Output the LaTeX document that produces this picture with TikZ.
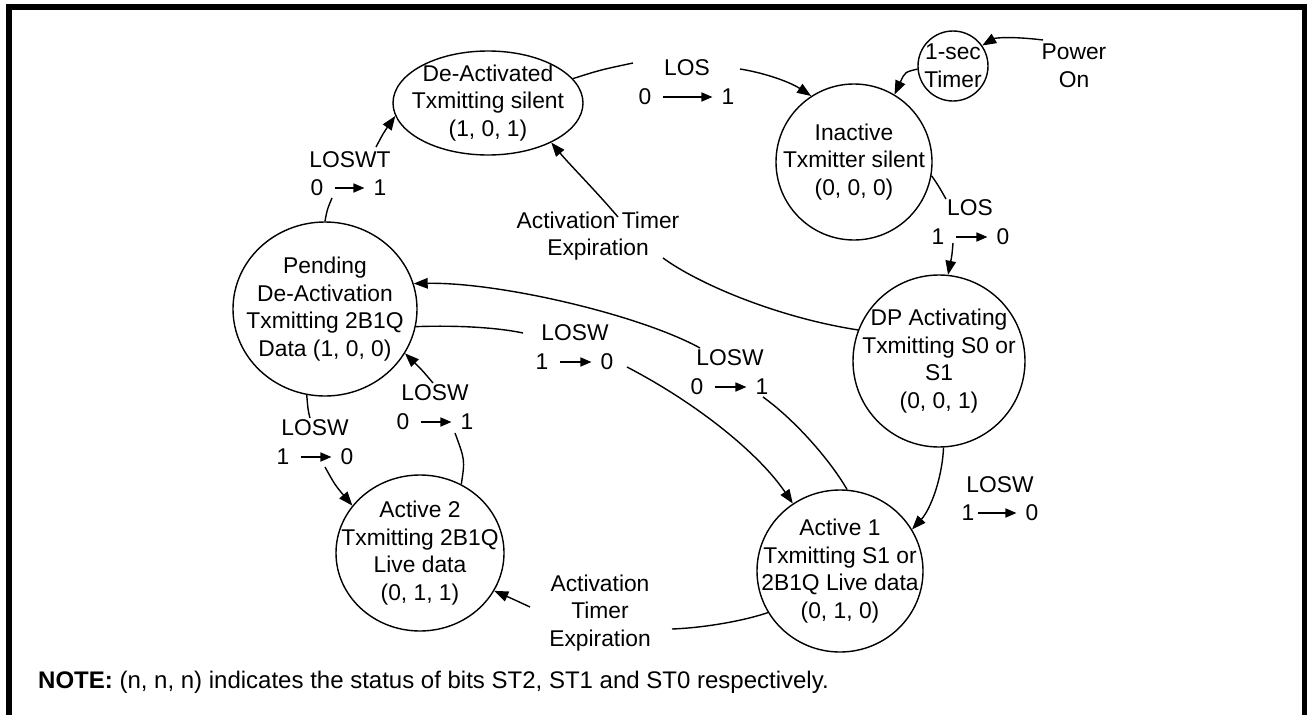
\documentclass[tikz,border=0pt]{standalone}
\usepackage{fontspec}
\setmainfont{Liberation Sans}
\usetikzlibrary{shapes.geometric,arrows.meta}
\begin{document}
\begin{tikzpicture}[x=1pt,y=-1pt,
  st/.style={draw, ellipse, inner sep=0pt, line width=1.4pt},
  txt/.style={font=\fontsize{22.8}{27.5}\selectfont, align=center, inner sep=1pt},
  con/.style={line width=1.4pt},
  tip/.style={con, -{Triangle[length=14pt,width=10.5pt]}},
  tarr/.style={line width=1.6pt, -{Triangle[length=11pt,width=9pt]}, shorten <=10pt, shorten >=8pt}]
\useasboundingbox (0,0) rectangle (1307,715);
\fill[white] (0,0) rectangle (1307,715);
\draw[line width=6pt] (8.5,7) rectangle (1305,730);

% states
\node[st, minimum width=190pt, minimum height=104pt,
  label={[txt]center:{De-Activated\\Txmitting silent\\(1, 0, 1)}}] (DeAct) at (488,103) {};
\node[st, minimum width=70pt, minimum height=70pt,
  label={[txt]center:{1-sec\\Timer}}] (Timer) at (953,66) {};
\node[st, minimum width=156pt, minimum height=156pt,
  label={[txt]center:{Inactive\\Txmitter silent\\(0, 0, 0)}}] (Inactive) at (854,162) {};
\node[st, minimum width=172pt, minimum height=172pt,
  label={[txt]center:{DP Activating\\Txmitting S0 or\\S1\\(0, 0, 1)}}] (DP) at (939,361) {};
\node[st, minimum width=184pt, minimum height=174pt,
  label={[txt]center:{Pending\\De-Activation\\Txmitting 2B1Q\\Data (1, 0, 0)}}] (Pending) at (325,309) {};
\node[st, minimum width=168pt, minimum height=156pt,
  label={[txt]center:{Active 2\\Txmitting 2B1Q\\Live data\\(0, 1, 1)}}] (Active2) at (420,553) {};
\node[st, minimum width=166pt, minimum height=162pt,
  label={[txt]center:{Active 1\\Txmitting S1 or\\2B1Q Live data\\(0, 1, 0)}}] (Active1) at (840,571) {};

% labels
\node[txt] (Pow) at (1074,66) {Power\\On};

\node[txt] (l1w) at (687,68) {LOS};
\node[txt] (l1a) at (645,97) {0};
\node[txt] (l1b) at (728,97) {1};
\draw[tarr] (l1a) -- (l1b);

\node[txt] (l2w) at (970,208) {LOS};
\node[txt] (l2a) at (938,237) {1};
\node[txt] (l2b) at (1003,237) {0};
\draw[tarr] (l2a) -- (l2b);

\node[txt] (l3) at (598,236) {Activation Timer\\Expiration};

\node[txt] (l4w) at (730,358) {LOSW};
\node[txt] (l4a) at (697,387) {0};
\node[txt] (l4b) at (762,387) {1};
\draw[tarr] (l4a) -- (l4b);

\node[txt] (l5w) at (575,333) {LOSW};
\node[txt] (l5a) at (542,362) {1};
\node[txt] (l5b) at (607,362) {0};
\draw[tarr] (l5a) -- (l5b);

\node[txt] (l6w) at (315,428) {LOSW};
\node[txt] (l6a) at (283,457) {1};
\node[txt] (l6b) at (347,457) {0};
\draw[tarr] (l6a) -- (l6b);

\node[txt] (l7w) at (435,393) {LOSW};
\node[txt] (l7a) at (403,422) {0};
\node[txt] (l7b) at (467,422) {1};
\draw[tarr] (l7a) -- (l7b);

\node[txt] (l8) at (600,613) {Activation\\Timer\\Expiration};

\node[txt] (l9w) at (1000,485) {LOSW};
\node[txt] (l9a) at (968,513) {1};
\node[txt] (l9b) at (1032,513) {0};
\draw[tarr, shorten <=2pt] (l9a) -- (l9b);

\node[txt] (l10w) at (350,160) {LOSWT};
\node[txt] (l10a) at (317,188) {0};
\node[txt] (l10b) at (380,188) {1};
\draw[tarr] (l10a) -- (l10b);

\node[font=\fontsize{24}{28}\selectfont, anchor=west, inner sep=0pt] (note) at (38,682)
  {\textbf{NOTE:} (n, n, n) indicates the status of bits ST2, ST1 and ST0 respectively.};

% free ends of connectors
\coordinate (c1a) at (633,63);  \coordinate (c1b) at (740,69);
\coordinate (c2a) at (946,199); \coordinate (c2b) at (953,243);
\coordinate (c3a) at (663,258); \coordinate (c3b) at (618,217);
\coordinate (c4a) at (763,397); \coordinate (c4b) at (700,348);
\coordinate (c5a) at (523,333); \coordinate (c5b) at (627,367);
\coordinate (c6a) at (310,418); \coordinate (c6b) at (325,467);
\coordinate (c7a) at (455,433); \coordinate (c7b) at (433,383);
\coordinate (c8a) at (672,629); \coordinate (c8b) at (530,607);
\coordinate (c10a) at (332,198); \coordinate (c10b) at (376,147);
\coordinate (cp) at (1043,40);

% connectors
\draw[tip] (cp) .. controls (1010,36) and (995,38) .. (Timer.35);
\draw[tip] (Timer.185) .. controls (905,72) .. (Inactive.59);
\draw[con] (DeAct.16) .. controls (600,70) .. (c1a);
\draw[tip] (c1b) .. controls (765,73) and (790,82) .. (Inactive.123);
\draw[con] (Inactive.-10) .. controls (938,185) .. (c2a);
\draw[tip] (c2b) .. controls (952,255) .. (DP.84);
\draw[con] (DP.159) .. controls (780,318) and (700,285) .. (c3a);
\draw[tip] (c3b) .. controls (595,190) and (570,165) .. (DeAct.-32);
\draw[con] (Active1.85) .. controls (830,460) and (795,420) .. (c4a);
\draw[tip] (c4b) .. controls (640,315) and (500,282) .. (Pending.16);
\draw[con] (Pending.-11) .. controls (460,325) and (500,328) .. (c5a);
\draw[tip] (c5b) .. controls (700,405) and (760,455) .. (Active1.125);
\draw[con] (Pending.-102) .. controls (308,410) .. (c6a);
\draw[tip] (c6b) .. controls (335,485) .. (Active2.145);
\draw[con] (Active2.59) .. controls (465,460) .. (c7a);
\draw[tip] (c7b) .. controls (422,370) .. (Pending.-29);
\draw[con] (Active1.210) .. controls (740,622) and (700,628) .. (c8a);
\draw[tip] (c8b) .. controls (515,600) .. (Active2.-27);
\draw[tip] (DP.-87) .. controls (942,480) and (930,510) .. (Active1.30);
\draw[con] (Pending.90) .. controls (327,210) .. (c10a);
\draw[tip] (c10b) .. controls (384,132) .. (DeAct.188);
\end{tikzpicture}
\end{document}
